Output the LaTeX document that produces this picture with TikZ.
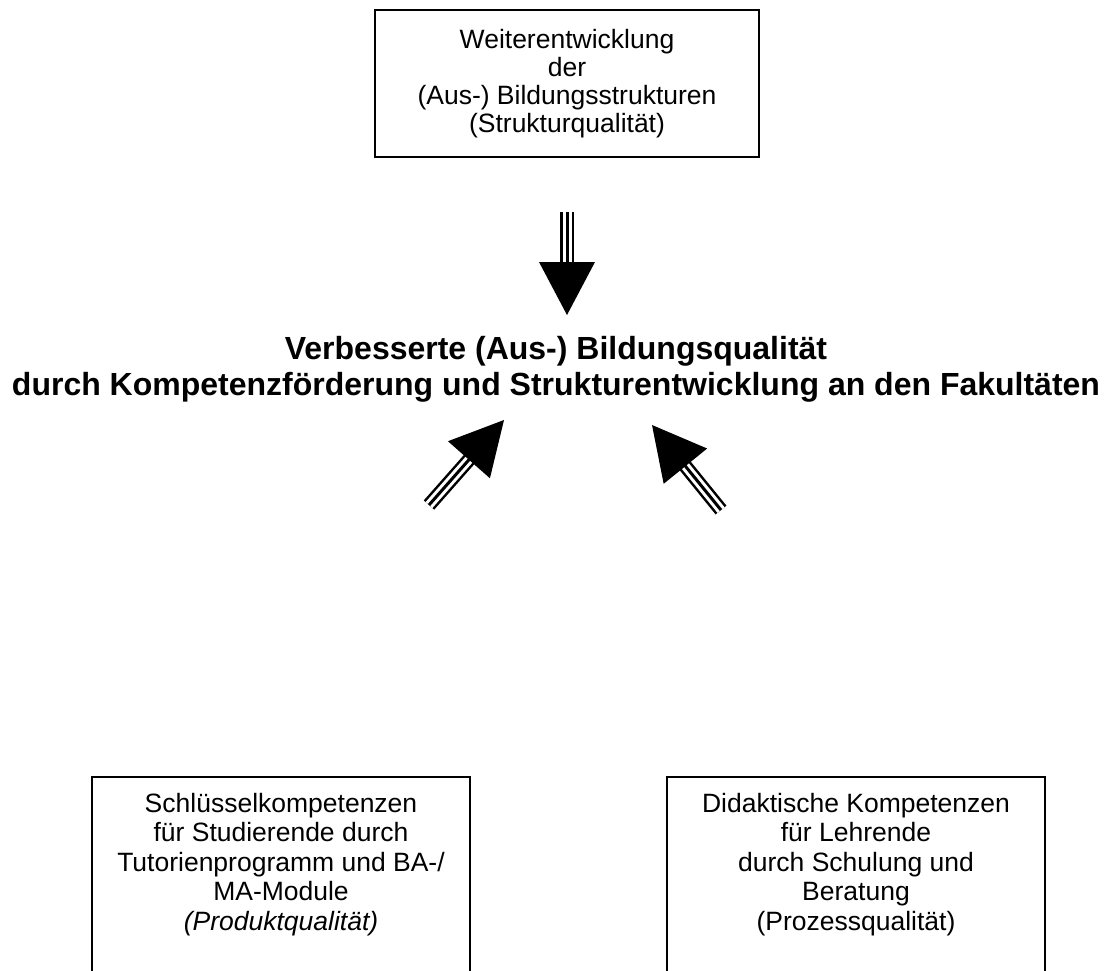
\documentclass[tikz,border=0pt]{standalone}
\usepackage{fontspec}
\setmainfont{Liberation Sans}
\usetikzlibrary{calc}
\tikzset{
  boxnode/.style={draw=black, line width=2.7pt, inner sep=0pt},
  toptextstyle/.style={font=\fontsize{26.5}{28}\selectfont, align=center, inner sep=0pt},
  bodytext/.style={font=\fontsize{26.5}{29.5}\selectfont, align=center, inner sep=0pt},
  titletext/.style={font=\fontsize{32}{36}\selectfont\bfseries, align=center, inner sep=0pt},
  shaftouter/.style={line width=14pt},
  shaftgap/.style={white, line width=9pt},
  shaftcore/.style={line width=3pt},
}
\newcommand\mytriarrow[2]{%
  \coordinate (ab) at ($(#2)!53pt!(#1)$);
  \coordinate (ae) at ($(#2)!50pt!(#1)$);
  \draw[shaftouter] (#1) -- (ae);
  \draw[shaftgap] (#1) -- (ae);
  \draw[shaftcore] (#1) -- (ae);
  \fill (#2) -- ($(ab)!28pt!90:(#2)$) -- ($(ab)!28pt!-90:(#2)$) -- cycle;
}
\begin{document}
\begin{tikzpicture}[x=1pt,y=-1pt]
\useasboundingbox (0,0) rectangle (1105,970);
\clip (0,0) rectangle (1105,970);
\fill[white] (0,0) rectangle (1105,970);

% top box
\node[boxnode, minimum width=384pt, minimum height=147pt] (topbox) at (567,83.5) {};
\node[toptextstyle, anchor=north] (toptext) at (567,29)
  {Weiterentwicklung\\der\\(Aus-) Bildungsstrukturen\\(Strukturqualität)};

% title
\node[titletext, anchor=north] (title) at (556,336)
  {Verbesserte (Aus-) Bildungsqualität\\durch Kompetenzförderung und Strukturentwicklung an den Fakultäten};

% bottom boxes
\node[boxnode, minimum width=378pt, minimum height=400pt] (leftbox) at (281,977) {};
\node[bodytext, anchor=north] (lefttext) at (281,793)
  {Schlüsselkompetenzen\\für Studierende durch\\Tutorienprogramm und BA-/\\MA-Module\\\textit{(Produktqualität)}};
\node[boxnode, minimum width=378pt, minimum height=400pt] (rightbox) at (856,977) {};
\node[bodytext, anchor=north] (righttext) at (856,793)
  {Didaktische Kompetenzen\\für Lehrende\\durch Schulung und\\Beratung\\(Prozessqualität)};

% arrows
\coordinate (dTail) at (567,212);
\coordinate (dTip) at (567,315);
\coordinate (lTail) at (429,505);
\coordinate (lTip) at (504,420);
\coordinate (rTail) at (721,510);
\coordinate (rTip) at (652,425);
\mytriarrow{dTail}{dTip}
\mytriarrow{lTail}{lTip}
\mytriarrow{rTail}{rTip}
\end{tikzpicture}
\end{document}
